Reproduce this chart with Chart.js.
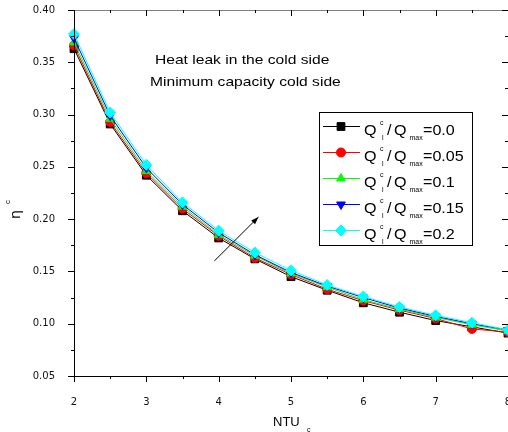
<!DOCTYPE html>
<html>
<head>
<meta charset="utf-8">
<script src="https://cdn.jsdelivr.net/npm/chart.js@4.4.0/dist/chart.umd.min.js"></script>
<style>
  html, body { margin: 0; padding: 0; background: #fff; }
  #wrap { width: 508px; height: 432px; }
</style>
</head>
<body>
<div id="wrap"><canvas id="etaChart" width="508" height="432"></canvas></div>
<script>
// NTU_c values on the x axis
const ntu = [2, 2.5, 3, 3.5, 4, 4.5, 5, 5.5, 6, 6.5, 7, 7.5, 8];

// eta^c for each heat leak ratio Q_l^c / Q_max
const leak00  = [0.363, 0.291, 0.242, 0.208, 0.182, 0.162, 0.145, 0.132, 0.120, 0.111, 0.103, 0.097, 0.091];
const leak005 = [0.366, 0.293, 0.244, 0.210, 0.184, 0.163, 0.147, 0.133, 0.122, 0.113, 0.105, 0.095, 0.092];
const leak01  = [0.369, 0.296, 0.246, 0.212, 0.185, 0.165, 0.148, 0.135, 0.123, 0.114, 0.106, 0.099, 0.093];
const leak015 = [0.373, 0.299, 0.249, 0.214, 0.187, 0.166, 0.149, 0.136, 0.125, 0.115, 0.107, 0.100, 0.094];
const leak02  = [0.377, 0.302, 0.252, 0.216, 0.189, 0.168, 0.151, 0.137, 0.126, 0.116, 0.108, 0.101, 0.094];

const leakLabels = ['0.0', '0.05', '0.1', '0.15', '0.2'];
const seriesData = [leak00, leak005, leak01, leak015, leak02];
const seriesColors = ['#000000', '#ff0000', '#00ff00', '#0000ff', '#00ffff'];
const seriesStyles = ['rect', 'circle', 'triangle', 'triangle', 'rectRot'];
const seriesRotation = [0, 0, 0, 180, 0];
const seriesRadius = [5.5, 4.5, 5, 5, 5.5];

// arrow (data coords) showing the direction of increasing heat leak
const arrowFrom = [3.94, 0.160];
const arrowTo = [4.55, 0.202];

const TXT = '"Liberation Sans", Arial, sans-serif';

function wideText(ctx, txt, x, y, sx) {
    ctx.save();
    ctx.translate(x, y);
    ctx.scale(sx, 1);
    ctx.fillText(txt, 0, 0);
    ctx.restore();
}

function noPad(s) {
    s.paddingLeft = 0;
    s.paddingRight = 0;
    s.paddingTop = 0;
    s.paddingBottom = 0;
}

const framePlugin = {
    id: 'frame',
    afterDraw(chart) {
        const ctx = chart.ctx;
        const a = chart.chartArea;
        const xs = chart.scales.x;
        const ys = chart.scales.y;
        ctx.save();

        // frame
        ctx.lineWidth = 1;
        ctx.strokeStyle = '#808080';
        ctx.beginPath();
        ctx.moveTo(a.left, a.top + 0.5);
        ctx.lineTo(a.right, a.top + 0.5);
        ctx.stroke();
        ctx.strokeStyle = '#000';
        ctx.beginPath();
        ctx.moveTo(a.left + 0.5, a.top);
        ctx.lineTo(a.left + 0.5, a.bottom);
        ctx.moveTo(a.left, a.bottom + 0.5);
        ctx.lineTo(a.right, a.bottom + 0.5);
        ctx.stroke();

        // ticks, major and minor, all four sides
        ctx.beginPath();
        for (let v = 2; v <= 8.001; v += 0.5) {
            const px = Math.round(xs.getPixelForValue(v)) + 0.5;
            const len = Math.abs(v - Math.round(v)) < 1e-6 ? 6 : 3;
            ctx.moveTo(px, a.bottom);
            ctx.lineTo(px, a.bottom + len);
            ctx.moveTo(px, a.top);
            ctx.lineTo(px, a.top + len);
        }
        for (let i = 0; i <= 14; i++) {
            const v = 0.05 + i * 0.025;
            const py = Math.round(ys.getPixelForValue(v)) + 0.5;
            const len = i % 2 === 0 ? 6 : 3;
            ctx.moveTo(a.left - len, py);
            ctx.lineTo(a.left, py);
            ctx.moveTo(a.right - len, py);
            ctx.lineTo(a.right, py);
        }
        ctx.stroke();

        // axis titles
        ctx.fillStyle = '#000';
        ctx.textBaseline = 'alphabetic';
        ctx.textAlign = 'left';
        ctx.font = '13px ' + TXT;
        ctx.fillText('NTU', 273, 426);
        ctx.font = '7px ' + TXT;
        ctx.fillText('c', 307, 432);

        ctx.save();
        ctx.translate(20, 219);
        ctx.rotate(-Math.PI / 2);
        ctx.font = '14px "DejaVu Sans", sans-serif';
        ctx.fillText('\u03b7', 0, 0);
        ctx.font = '8px ' + TXT;
        ctx.fillText('c', 15, -10);
        ctx.restore();

        // annotation text
        ctx.font = '13px ' + TXT;
        wideText(ctx, 'Heat leak in the cold side', 155, 64, 1.2);
        wideText(ctx, 'Minimum capacity cold side', 150, 86, 1.2);

        // arrow
        const x0 = xs.getPixelForValue(arrowFrom[0]), y0 = ys.getPixelForValue(arrowFrom[1]);
        const x1 = xs.getPixelForValue(arrowTo[0]), y1 = ys.getPixelForValue(arrowTo[1]);
        const ang = Math.atan2(y1 - y0, x1 - x0);
        ctx.strokeStyle = '#000';
        ctx.beginPath();
        ctx.moveTo(x0, y0);
        ctx.lineTo(x1, y1);
        ctx.stroke();
        ctx.beginPath();
        ctx.moveTo(x1, y1);
        ctx.lineTo(x1 - 8 * Math.cos(ang - 0.35), y1 - 8 * Math.sin(ang - 0.35));
        ctx.lineTo(x1 - 8 * Math.cos(ang + 0.35), y1 - 8 * Math.sin(ang + 0.35));
        ctx.closePath();
        ctx.fillStyle = '#000';
        ctx.fill();

        // legend box
        ctx.fillStyle = '#fff';
        ctx.fillRect(319.5, 112.5, 153, 133);
        ctx.strokeStyle = '#000';
        ctx.strokeRect(319.5, 112.5, 153, 133);

        leakLabels.forEach((lab, i) => {
            const yc = 126.5 + i * 26;
            ctx.strokeStyle = seriesColors[i];
            ctx.fillStyle = seriesColors[i];
            ctx.lineWidth = 1;
            ctx.beginPath();
            ctx.moveTo(323, yc);
            ctx.lineTo(360, yc);
            ctx.stroke();
            Chart.helpers.drawPoint(ctx, {
                pointStyle: seriesStyles[i],
                radius: seriesRadius[i],
                rotation: seriesRotation[i],
                borderWidth: 1
            }, 341, yc);

            ctx.fillStyle = '#000';
            ctx.font = '14px ' + TXT;
            wideText(ctx, 'Q', 364, yc + 8.5, 1.15);
            wideText(ctx, '/', 387, yc + 8.5, 1.15);
            wideText(ctx, 'Q', 394, yc + 8.5, 1.15);
            wideText(ctx, '=' + lab, 423, yc + 8.5, 1.15);
            ctx.font = '7px ' + TXT;
            ctx.fillText('c', 380, yc - 1.5);
            ctx.fillText('l', 382, yc + 13);
            ctx.fillText('max', 409.5, yc + 13);
        });

        ctx.restore();
    }
};

const datasets = seriesData.map((vals, i) => ({
    label: leakLabels[i],
    data: ntu.map((x, k) => ({ x: x, y: vals[k] })),
    borderColor: seriesColors[i],
    backgroundColor: seriesColors[i],
    pointBackgroundColor: seriesColors[i],
    pointBorderColor: seriesColors[i],
    borderWidth: 1,
    pointStyle: seriesStyles[i],
    pointRotation: seriesRotation[i],
    pointRadius: seriesRadius[i],
    pointBorderWidth: 1,
    tension: 0,
    fill: false,
    clip: false,
    order: 4 - i
}));

const etaChart = new Chart(document.getElementById('etaChart').getContext('2d'), {
    type: 'line',
    data: { datasets: datasets },
    options: {
        responsive: false,
        animation: false,
        devicePixelRatio: 1,
        layout: { padding: { top: 10, right: 0, left: 0, bottom: 0 }, autoPadding: false },
        scales: {
            x: {
                type: 'linear',
                min: 2,
                max: 8,
                afterFit: (s) => { s.height = 56; noPad(s); },
                grid: { display: false },
                border: { display: false },
                ticks: {
                    stepSize: 1,
                    color: '#111',
                    padding: 12,
                    maxRotation: 0,
                    font: { family: '"DejaVu Sans", sans-serif', size: 10 }
                }
            },
            y: {
                type: 'linear',
                min: 0.05,
                max: 0.40,
                afterFit: (s) => { s.width = 74; noPad(s); },
                grid: { display: false },
                border: { display: false },
                ticks: {
                    stepSize: 0.05,
                    color: '#111',
                    padding: 11,
                    font: { family: '"DejaVu Sans", sans-serif', size: 10 },
                    callback: (v) => v.toFixed(2)
                }
            }
        },
        plugins: {
            legend: { display: false },
            tooltip: { enabled: false }
        }
    },
    plugins: [framePlugin]
});
</script>
</body>
</html>
